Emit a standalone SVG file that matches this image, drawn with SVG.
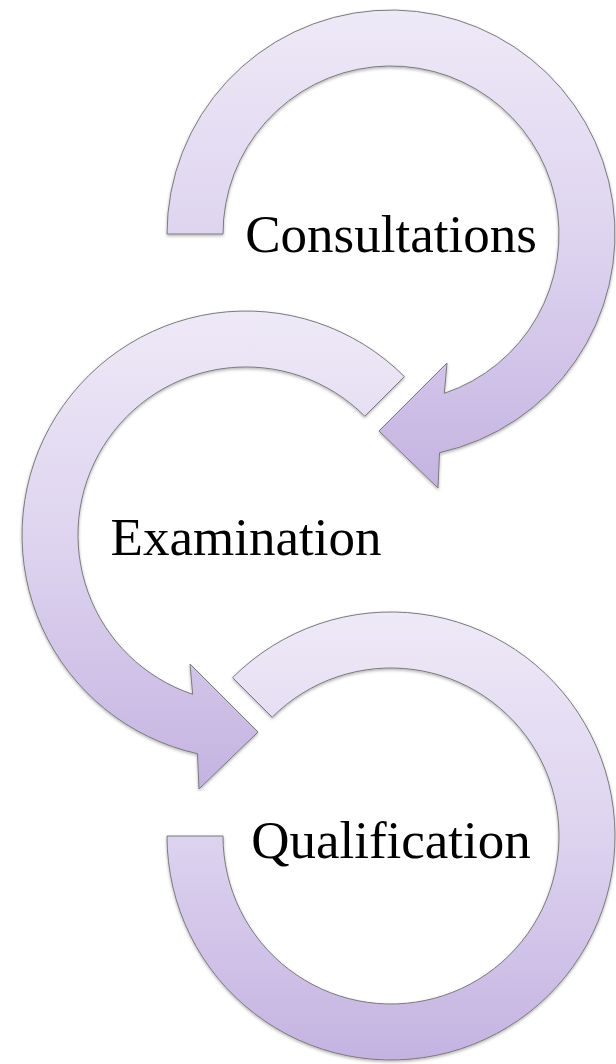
<svg xmlns="http://www.w3.org/2000/svg" width="616" height="1064" viewBox="0 0 616 1064">
  <style>
    .arc { fill: url(#g); stroke: #7a7a7a; stroke-width: 1; filter: url(#sh); }
    .lbl { font-family: "Liberation Serif", "Times New Roman", serif; font-size: 53px; fill: #000; text-anchor: middle; }
  </style>
  <defs>
    <linearGradient id="g" x1="0" y1="0" x2="0" y2="1">
      <stop offset="0" stop-color="#eee9f7"/>
      <stop offset="0.5" stop-color="#ddd3ef"/>
      <stop offset="1" stop-color="#c4b3e1"/>
    </linearGradient>
    <filter id="sh" x="-10%" y="-10%" width="120%" height="120%">
      <feDropShadow dx="0" dy="1.5" stdDeviation="1.5" flood-color="#000" flood-opacity="0.3"/>
    </filter>
  </defs>
  <rect width="616" height="1064" fill="#fff"/>
  <g id="connectors"></g>
  <g id="node-consultations">
    <path class="arc" d="M167 234 A224 224 0 1 1 439.5 452.7 L438 488 L379 431 L447 363 L444.3 393.3 A168 168 0 1 0 223 234 Z"/>
    <text class="lbl" x="391" y="252">Consultations</text>
  </g>
  <g id="node-examination">
    <path class="arc" d="M404.4 376.6 A224 224 0 1 0 197.5 753.7 L199 789 L258 732 L190 664 L192.7 694.3 A168 168 0 1 1 364.8 416.2 Z"/>
    <text class="lbl" x="246" y="555">Examination</text>
  </g>
  <g id="node-qualification">
    <path class="arc" d="M232.6 677.6 A224 224 0 1 1 167 836 L223 836 A168 168 0 1 0 272.2 717.2 Z"/>
    <text class="lbl" x="391" y="858">Qualification</text>
  </g>
</svg>
